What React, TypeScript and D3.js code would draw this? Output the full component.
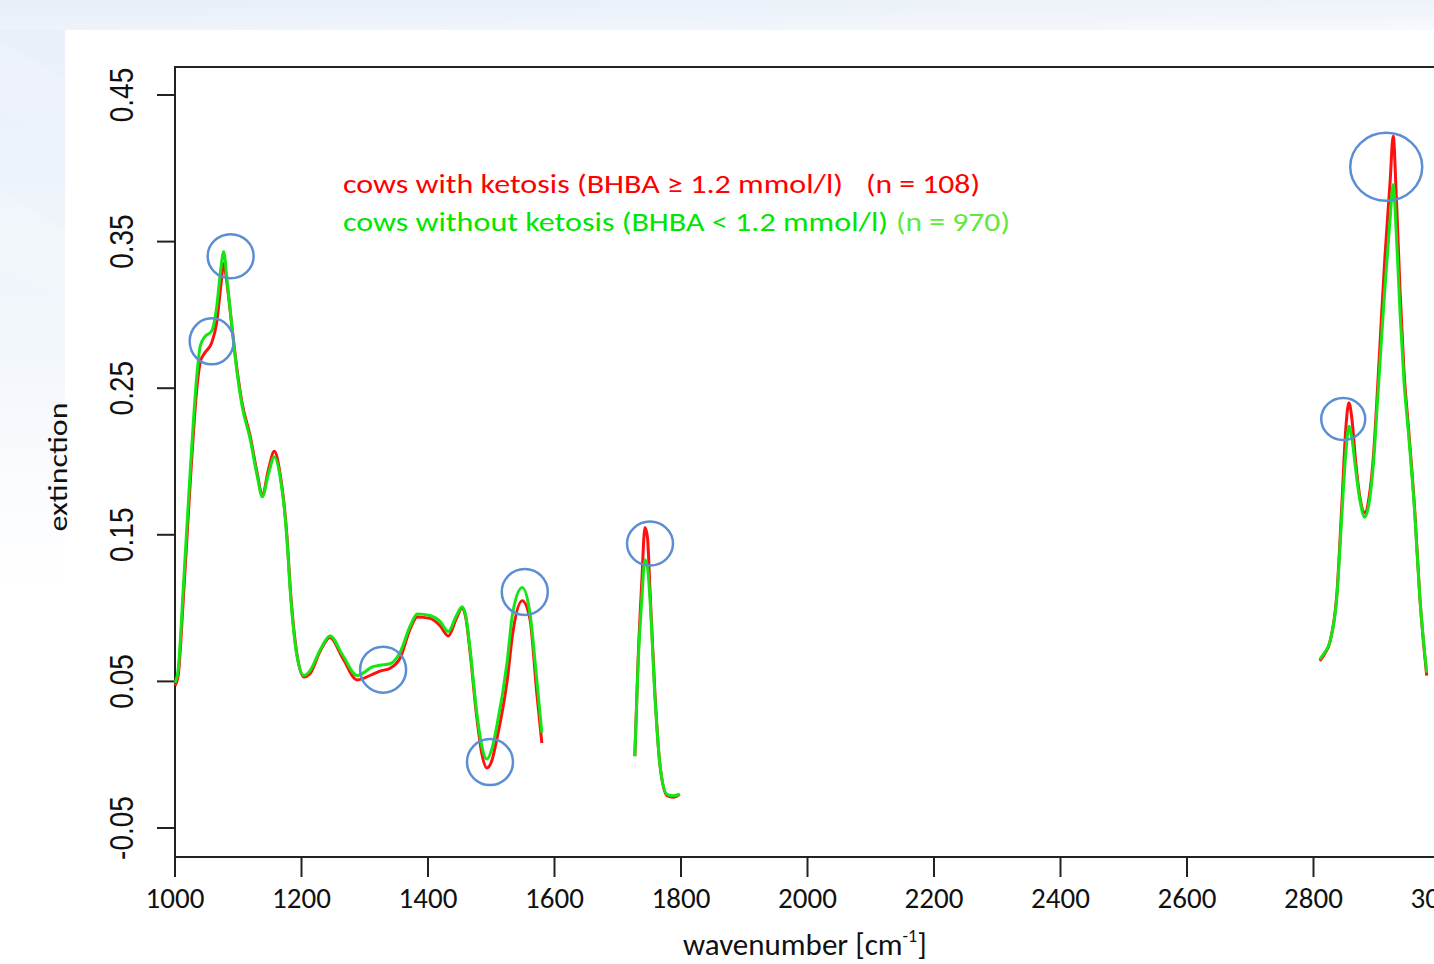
import React from "react";
import * as d3 from "d3";

const wnA = [1000, 1005, 1013, 1024, 1035, 1040, 1047, 1058, 1066, 1072, 1077, 1082, 1090, 1098, 1106, 1119, 1130, 1138, 1148, 1157, 1166, 1177, 1182, 1193, 1204, 1213, 1230, 1245, 1265, 1288, 1313, 1324, 1340, 1356, 1372, 1383, 1403, 1419, 1432, 1445, 1454, 1460, 1466, 1477, 1485, 1493, 1501, 1509, 1525, 1534, 1549, 1561, 1572, 1580];
const greenA = [0.049, 0.058, 0.113, 0.193, 0.261, 0.279, 0.285, 0.289, 0.306, 0.330, 0.343, 0.325, 0.292, 0.261, 0.238, 0.215, 0.190, 0.176, 0.192, 0.203, 0.190, 0.147, 0.113, 0.067, 0.054, 0.057, 0.072, 0.081, 0.068, 0.054, 0.060, 0.061, 0.062, 0.070, 0.088, 0.096, 0.095, 0.091, 0.084, 0.095, 0.101, 0.094, 0.074, 0.029, 0.006, -0.003, 0.004, 0.020, 0.063, 0.097, 0.114, 0.097, 0.051, 0.015];
const redA = [0.047, 0.054, 0.105, 0.185, 0.252, 0.268, 0.274, 0.281, 0.295, 0.318, 0.335, 0.322, 0.292, 0.263, 0.240, 0.217, 0.192, 0.177, 0.195, 0.207, 0.192, 0.149, 0.115, 0.068, 0.053, 0.055, 0.071, 0.080, 0.066, 0.051, 0.055, 0.057, 0.059, 0.066, 0.086, 0.094, 0.093, 0.088, 0.081, 0.093, 0.100, 0.093, 0.072, 0.026, 0.001, -0.009, -0.004, 0.011, 0.050, 0.083, 0.105, 0.093, 0.042, 0.008];

const wnB = [1727, 1732, 1738, 1743, 1747, 1751, 1759, 1767, 1778, 1788, 1798];
const greenB = [-0.001, 0.060, 0.106, 0.133, 0.128, 0.106, 0.038, -0.008, -0.027, -0.028, -0.027];
const redB = [-0.001, 0.063, 0.118, 0.155, 0.148, 0.112, 0.040, -0.008, -0.028, -0.029, -0.027];

const wnC = [2810, 2818, 2826, 2837, 2845, 2851, 2856, 2861, 2866, 2874, 2881, 2888, 2895, 2900, 2907, 2913, 2921, 2926, 2931, 2937, 2943, 2950, 2960, 2968, 2979];
const greenC = [0.065, 0.070, 0.077, 0.108, 0.165, 0.205, 0.224, 0.215, 0.197, 0.172, 0.162, 0.172, 0.200, 0.233, 0.280, 0.319, 0.365, 0.389, 0.355, 0.300, 0.255, 0.220, 0.165, 0.108, 0.056];
const redC = [0.064, 0.069, 0.077, 0.110, 0.172, 0.222, 0.240, 0.228, 0.203, 0.174, 0.165, 0.176, 0.205, 0.240, 0.295, 0.340, 0.390, 0.422, 0.380, 0.315, 0.262, 0.224, 0.167, 0.108, 0.054];

// highlighted bands (blue rings)
const markWn = [1058, 1088, 1329, 1498, 1553, 1751, 2847, 2915];
const markVal = [0.282, 0.340, 0.058, -0.005, 0.111, 0.144, 0.229, 0.401];
const markRx = [22, 23, 23, 23, 23, 23, 22, 36];
const markRy = [23, 22, 23, 23, 23, 22, 21, 34];

const xTicks = [1000, 1200, 1400, 1600, 1800, 2000, 2200, 2400, 2600, 2800, 3000];
const yTicks = [-0.05, 0.05, 0.15, 0.25, 0.35, 0.45];

const RED = "#ff1010";
const GREEN = "#14e614";
const calibri = "Carlito, Calibri, Lato, sans-serif";

function zip(wn: number[], v: number[]): [number, number][] {
  return wn.map((w, i) => [w, v[i]]);
}

export default function App() {
  const x = d3.scaleLinear().domain([1000, 3000]).range([175, 1440]);
  const y = d3.scaleLinear().domain([-0.05, 0.45]).range([828, 95]);

  const line = d3
    .line<[number, number]>()
    .x((d) => x(d[0]))
    .y((d) => y(d[1]))
    .curve(d3.curveMonotoneX);

  const redSegs = [zip(wnA, redA), zip(wnB, redB), zip(wnC, redC)];
  const greenSegs = [zip(wnA, greenA), zip(wnB, greenB), zip(wnC, greenC)];

  return (
    <svg width={1434} height={964} style={{ position: "absolute", left: 0, top: 0 }}>
      <defs>
        <linearGradient id="bg" x1="0" y1="0" x2="1" y2="1">
          <stop offset="0" stopColor="#e6eef8" />
          <stop offset="0.5" stopColor="#eef3fa" />
          <stop offset="1" stopColor="#f6f9fd" />
        </linearGradient>
        <linearGradient id="side" x1="0" y1="0" x2="0" y2="1">
          <stop offset="0" stopColor="#e9f0f9" />
          <stop offset="0.35" stopColor="#f3f7fc" />
          <stop offset="0.6" stopColor="#ffffff" />
        </linearGradient>
      </defs>
      <rect x={0} y={0} width={1434} height={30} fill="url(#bg)" />
      <rect x={0} y={30} width={65} height={934} fill="url(#side)" />
      <polygon points="0,40 65,80 65,140 0,110" fill="#eff4fb" opacity={0.6} />
      <polygon points="0,190 65,230 65,300 0,270" fill="#f2f6fc" opacity={0.6} />
      <rect x={65} y={30} width={1369} height={934} fill="#ffffff" />

      {/* frame */}
      <rect x={175} y={67} width={1300} height={790} fill="none" stroke="#222" strokeWidth={2} />

      {/* y axis */}
      {yTicks.map((t) => (
        <g key={t}>
          <line x1={157} x2={175} y1={y(t)} y2={y(t)} stroke="#222" strokeWidth={2} />
          <text
            transform={`translate(133,${y(t)}) rotate(-90) scale(1,1.18)`}
            textAnchor="middle"
            fontFamily="'Liberation Sans', Arial, sans-serif"
            fontSize={28}
            fill="#111"
          >
            {t.toFixed(2)}
          </text>
        </g>
      ))}

      {/* x axis */}
      {xTicks.map((t) => (
        <g key={t}>
          <line x1={x(t)} x2={x(t)} y1={857} y2={877} stroke="#222" strokeWidth={2} />
          <text x={x(t)} y={908} textAnchor="middle" fontFamily={calibri} fontSize={29} fill="#111">
            {t}
          </text>
        </g>
      ))}

      <text
        transform="translate(67,467) rotate(-90)"
        textAnchor="middle"
        fontFamily={calibri}
        fontSize={27}
        fill="#111"
        textLength={129}
        lengthAdjust="spacingAndGlyphs"
      >
        extinction
      </text>
      <text x={683} y={955} fontFamily={calibri} fontSize={31} fill="#111">
        wavenumber [cm
        <tspan dy={-13} fontSize={18}>-1</tspan>
        <tspan dy={13}>]</tspan>
      </text>

      {/* spectra */}
      {redSegs.map((s, i) => (
        <path key={"r" + i} d={line(s) || ""} fill="none" stroke={RED} strokeWidth={3} strokeLinejoin="round" />
      ))}
      {greenSegs.map((s, i) => (
        <path key={"g" + i} d={line(s) || ""} fill="none" stroke={GREEN} strokeWidth={3} strokeLinejoin="round" />
      ))}

      {/* rings */}
      {markWn.map((w, i) => (
        <ellipse
          key={"m" + i}
          cx={x(w)}
          cy={y(markVal[i])}
          rx={markRx[i]}
          ry={markRy[i]}
          fill="none"
          stroke="#5b8ed2"
          strokeWidth={2.5}
        />
      ))}

      {/* legend */}
      <text x={343} y={193} fontFamily={calibri} fontSize={27} fill="#ff0000" textLength={500} lengthAdjust="spacingAndGlyphs">
        cows with ketosis (BHBA ≥ 1.2 mmol/l)
      </text>
      <text x={866} y={193} fontFamily={calibri} fontSize={27} fill="#ff0000" textLength={114} lengthAdjust="spacingAndGlyphs">
        (n = 108)
      </text>
      <text x={343} y={231} fontFamily={calibri} fontSize={27} fill="#00e600" textLength={545} lengthAdjust="spacingAndGlyphs">
        cows without ketosis (BHBA &lt; 1.2 mmol/l)
      </text>
      <text x={896} y={231} fontFamily={calibri} fontSize={27} fill="#5fe840" textLength={114} lengthAdjust="spacingAndGlyphs">
        (n = 970)
      </text>
    </svg>
  );
}
